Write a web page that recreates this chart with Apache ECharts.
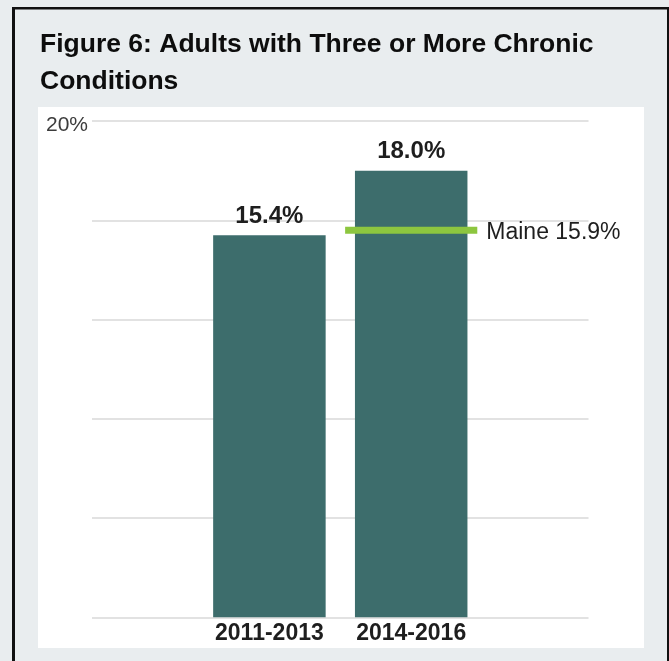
<!DOCTYPE html>
<html>
<head>
<meta charset="utf-8">
<script src="https://cdn.jsdelivr.net/npm/echarts@6/dist/echarts.min.js"></script>
<style>html,body{margin:0;padding:0;background:#e9edef;}#c{width:669px;height:661px;}</style>
</head>
<body>
<div id="c"></div>
<script>
const titleText = 'Figure 6: Adults with Three or More Chronic\nConditions';
const categories = ['2011-2013', '2014-2016'];
const values = [15.4, 18.0];
const barLabels = ['15.4%', '18.0%'];
const maineCategory = '2014-2016';
const maineLevel = 15.6;
const maineLabel = 'Maine 15.9%';
const yMin = 0, yMax = 20, yStep = 4;
const yTopLabel = '20%';

const FONT = '"Liberation Sans", Arial, Helvetica, sans-serif';
const chart = echarts.init(document.getElementById('c'), null, {renderer: 'canvas'});
chart.setOption({
  backgroundColor: '#e9edef',
  animation: false,
  graphic: [
    {type: 'rect', shape: {x: 38, y: 107, width: 606, height: 541}, style: {fill: '#ffffff'}, z: -10, silent: true},
    {type: 'rect', shape: {x: 12, y: 7, width: 3, height: 660}, style: {fill: '#111'}, z: -5},
    {type: 'rect', shape: {x: 12, y: 7, width: 660, height: 2.5}, style: {fill: '#111'}, z: -5},
    {type: 'rect', shape: {x: 667, y: 7, width: 2, height: 660}, style: {fill: '#111'}, z: -5}
  ],
  title: {
    text: titleText,
    left: 40, top: 26,
    padding: 0,
    textStyle: {fontFamily: FONT, fontSize: 26.5, fontWeight: 'bold', color: '#0d0d0d', lineHeight: 37}
  },
  grid: [
    {left: 92, right: 80.5, top: 121, bottom: 43.7},
    {left: 198.5, width: 283.6, top: 121, bottom: 43.7}
  ],
  xAxis: [
    {gridIndex: 0, type: 'value', show: false, min: 0, max: 1},
    {gridIndex: 1, type: 'category', data: categories,
     axisLine: {show: false}, axisTick: {show: false}, splitLine: {show: false},
     axisLabel: {interval: 0, hideOverlap: false, fontFamily: FONT, fontSize: 23, fontWeight: 'bold', color: '#1e1e1e', margin: 5}}
  ],
  yAxis: [
    {gridIndex: 0, type: 'value', min: yMin, max: yMax, interval: yStep,
     axisLine: {show: false}, axisTick: {show: false},
     splitLine: {lineStyle: {color: '#e2e2e2', width: 2}},
     axisLabel: {margin: 4,
       formatter: v => (v === yMax ? '{t|' + yTopLabel + '}' : ''),
       rich: {t: {fontFamily: FONT, fontSize: 21, color: '#3c3c3c', padding: [8, 0, 0, 0]}}}},
    {gridIndex: 1, type: 'value', min: yMin, max: yMax, interval: yStep, show: false,
     splitLine: {show: false}}
  ],
  series: [
    {
      type: 'bar', xAxisIndex: 1, yAxisIndex: 1,
      data: values, barWidth: 112.5,
      itemStyle: {color: '#3d6d6c'},
      label: {show: true, position: 'top', distance: 7,
        fontFamily: FONT, fontSize: 24, fontWeight: 'bold', color: '#1e1e1e',
        formatter: p => barLabels[p.dataIndex]}
    },
    {
      type: 'custom', xAxisIndex: 1, yAxisIndex: 1, z: 5,
      data: [[maineCategory, maineLevel]],
      renderItem: function (params, api) {
        const p = api.coord([api.value(0), api.value(1)]);
        const half = api.size([1, 0])[0] * 0.466;
        return {
          type: 'group',
          children: [
            {type: 'line', shape: {x1: p[0] - half, y1: p[1], x2: p[0] + half, y2: p[1]},
             style: {stroke: '#8dc63f', lineWidth: 7}},
            {type: 'text', x: p[0] + half + 9, y: p[1] + 2,
             style: {text: maineLabel, fontFamily: FONT, fontSize: 23, fill: '#1e1e1e',
               align: 'left', verticalAlign: 'middle'}}
          ]
        };
      }
    }
  ]
});
</script>
</body>
</html>
